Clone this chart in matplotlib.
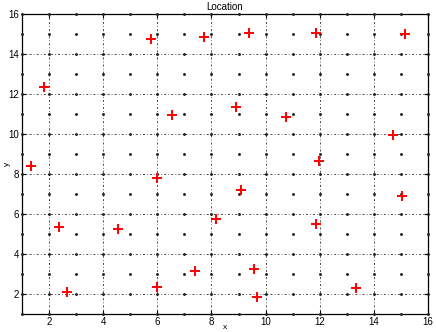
import matplotlib
matplotlib.use("Agg")
import matplotlib.pyplot as plt
import numpy as np

plt.rcParams['font.family'] = ['Liberation Sans', 'DejaVu Sans']

# sensor grid (integer points)
grid_x = np.arange(1, 17)
grid_y = np.arange(1, 17)

# estimated locations (red crosses)
loc_x = [5.76, 7.73, 9.38, 11.88, 15.15, 1.83, 6.56, 8.89, 10.75, 14.72,
         1.32, 11.98, 5.97, 9.11, 15.05, 2.37, 4.56, 8.15, 11.85, 7.41,
         9.57, 5.97, 2.66, 9.70, 13.35]
loc_y = [14.75, 14.83, 15.03, 15.02, 14.98, 12.37, 10.97, 11.33, 10.83, 9.95,
         8.42, 8.65, 7.82, 7.18, 6.90, 5.35, 5.25, 5.75, 5.52, 3.15,
         3.27, 2.35, 2.10, 1.87, 2.28]

fig = plt.figure(figsize=(4.36, 3.32), dpi=100)
ax = fig.add_axes([0.0505, 0.0542, 0.931, 0.904])

GX, GY = np.meshgrid(grid_x, grid_y)
ax.plot(GX.ravel(), GY.ravel(), '.', color='#222222', markersize=2.2,
        clip_on=False, zorder=3)
ax.plot(loc_x, loc_y, '+', color='red', markersize=6.5, mew=1.4, zorder=4)

ax.set_xlim(1, 16)
ax.set_ylim(1, 16)
ax.set_xticks(np.arange(2, 17, 2))
ax.set_yticks(np.arange(2, 17, 2))
ax.grid(True, color='#333333', linestyle=(0, (2.5, 2.5, 1, 2.5)), linewidth=0.6)
ax.tick_params(direction='in', top=True, right=True, labelsize=7, length=3,
               pad=2)
for s in ax.spines.values():
    s.set_linewidth(0.9)

ax.set_title('Location', fontsize=7, pad=3)
ax.set_xlabel('x', fontsize=6)
ax.set_ylabel('y', fontsize=6)
ax.xaxis.set_label_coords(0.5, -0.034)
ax.yaxis.set_label_coords(-0.028, 0.5)

fig.savefig('out.png', dpi=100)
